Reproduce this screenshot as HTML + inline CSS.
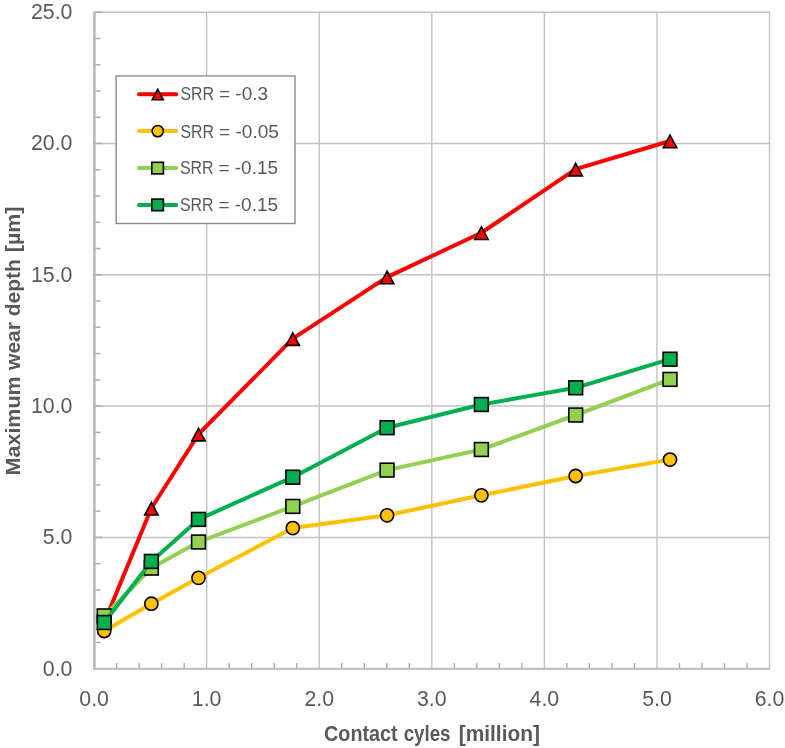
<!DOCTYPE html>
<html><head><meta charset="utf-8"><style>
html,body{margin:0;padding:0;background:#fff;overflow:hidden}
svg{display:block;will-change:transform;font-family:"Liberation Sans",sans-serif}
</style></head><body>
<svg width="785" height="748" viewBox="0 0 785 748">
<rect x="0" y="0" width="785" height="748" fill="#fff"/>
<line x1="93" y1="537.40" x2="770.1" y2="537.40" stroke="#c2c2c2" stroke-width="1.5"/>
<line x1="93" y1="406.10" x2="770.1" y2="406.10" stroke="#c2c2c2" stroke-width="1.5"/>
<line x1="93" y1="274.80" x2="770.1" y2="274.80" stroke="#c2c2c2" stroke-width="1.5"/>
<line x1="93" y1="143.50" x2="770.1" y2="143.50" stroke="#c2c2c2" stroke-width="1.5"/>
<line x1="93" y1="12.20" x2="770.1" y2="12.20" stroke="#c2c2c2" stroke-width="1.5"/>
<line x1="206.67" y1="12.2" x2="206.67" y2="668" stroke="#c2c2c2" stroke-width="1.4"/>
<line x1="319.24" y1="12.2" x2="319.24" y2="668" stroke="#c2c2c2" stroke-width="1.4"/>
<line x1="431.81" y1="12.2" x2="431.81" y2="668" stroke="#c2c2c2" stroke-width="1.4"/>
<line x1="544.38" y1="12.2" x2="544.38" y2="668" stroke="#c2c2c2" stroke-width="1.4"/>
<line x1="656.95" y1="12.2" x2="656.95" y2="668" stroke="#c2c2c2" stroke-width="1.4"/>
<line x1="769.52" y1="12.2" x2="769.52" y2="668" stroke="#c2c2c2" stroke-width="1.4"/>
<line x1="95" y1="668.70" x2="102.5" y2="668.70" stroke="#acacac" stroke-width="1.5"/>
<line x1="95" y1="642.44" x2="100.5" y2="642.44" stroke="#acacac" stroke-width="1.5"/>
<line x1="95" y1="616.18" x2="100.5" y2="616.18" stroke="#acacac" stroke-width="1.5"/>
<line x1="95" y1="589.92" x2="100.5" y2="589.92" stroke="#acacac" stroke-width="1.5"/>
<line x1="95" y1="563.66" x2="100.5" y2="563.66" stroke="#acacac" stroke-width="1.5"/>
<line x1="95" y1="537.40" x2="102.5" y2="537.40" stroke="#acacac" stroke-width="1.5"/>
<line x1="95" y1="511.14" x2="100.5" y2="511.14" stroke="#acacac" stroke-width="1.5"/>
<line x1="95" y1="484.88" x2="100.5" y2="484.88" stroke="#acacac" stroke-width="1.5"/>
<line x1="95" y1="458.62" x2="100.5" y2="458.62" stroke="#acacac" stroke-width="1.5"/>
<line x1="95" y1="432.36" x2="100.5" y2="432.36" stroke="#acacac" stroke-width="1.5"/>
<line x1="95" y1="406.10" x2="102.5" y2="406.10" stroke="#acacac" stroke-width="1.5"/>
<line x1="95" y1="379.84" x2="100.5" y2="379.84" stroke="#acacac" stroke-width="1.5"/>
<line x1="95" y1="353.58" x2="100.5" y2="353.58" stroke="#acacac" stroke-width="1.5"/>
<line x1="95" y1="327.32" x2="100.5" y2="327.32" stroke="#acacac" stroke-width="1.5"/>
<line x1="95" y1="301.06" x2="100.5" y2="301.06" stroke="#acacac" stroke-width="1.5"/>
<line x1="95" y1="274.80" x2="102.5" y2="274.80" stroke="#acacac" stroke-width="1.5"/>
<line x1="95" y1="248.54" x2="100.5" y2="248.54" stroke="#acacac" stroke-width="1.5"/>
<line x1="95" y1="222.28" x2="100.5" y2="222.28" stroke="#acacac" stroke-width="1.5"/>
<line x1="95" y1="196.02" x2="100.5" y2="196.02" stroke="#acacac" stroke-width="1.5"/>
<line x1="95" y1="169.76" x2="100.5" y2="169.76" stroke="#acacac" stroke-width="1.5"/>
<line x1="95" y1="143.50" x2="102.5" y2="143.50" stroke="#acacac" stroke-width="1.5"/>
<line x1="95" y1="117.24" x2="100.5" y2="117.24" stroke="#acacac" stroke-width="1.5"/>
<line x1="95" y1="90.98" x2="100.5" y2="90.98" stroke="#acacac" stroke-width="1.5"/>
<line x1="95" y1="64.72" x2="100.5" y2="64.72" stroke="#acacac" stroke-width="1.5"/>
<line x1="95" y1="38.46" x2="100.5" y2="38.46" stroke="#acacac" stroke-width="1.5"/>
<line x1="95" y1="12.20" x2="102.5" y2="12.20" stroke="#acacac" stroke-width="1.5"/>
<line x1="116.61" y1="663" x2="116.61" y2="668" stroke="#acacac" stroke-width="1.4"/>
<line x1="139.13" y1="663" x2="139.13" y2="668" stroke="#acacac" stroke-width="1.4"/>
<line x1="161.64" y1="663" x2="161.64" y2="668" stroke="#acacac" stroke-width="1.4"/>
<line x1="184.16" y1="663" x2="184.16" y2="668" stroke="#acacac" stroke-width="1.4"/>
<line x1="229.18" y1="663" x2="229.18" y2="668" stroke="#acacac" stroke-width="1.4"/>
<line x1="251.70" y1="663" x2="251.70" y2="668" stroke="#acacac" stroke-width="1.4"/>
<line x1="274.21" y1="663" x2="274.21" y2="668" stroke="#acacac" stroke-width="1.4"/>
<line x1="296.73" y1="663" x2="296.73" y2="668" stroke="#acacac" stroke-width="1.4"/>
<line x1="341.75" y1="663" x2="341.75" y2="668" stroke="#acacac" stroke-width="1.4"/>
<line x1="364.27" y1="663" x2="364.27" y2="668" stroke="#acacac" stroke-width="1.4"/>
<line x1="386.78" y1="663" x2="386.78" y2="668" stroke="#acacac" stroke-width="1.4"/>
<line x1="409.30" y1="663" x2="409.30" y2="668" stroke="#acacac" stroke-width="1.4"/>
<line x1="454.32" y1="663" x2="454.32" y2="668" stroke="#acacac" stroke-width="1.4"/>
<line x1="476.84" y1="663" x2="476.84" y2="668" stroke="#acacac" stroke-width="1.4"/>
<line x1="499.35" y1="663" x2="499.35" y2="668" stroke="#acacac" stroke-width="1.4"/>
<line x1="521.87" y1="663" x2="521.87" y2="668" stroke="#acacac" stroke-width="1.4"/>
<line x1="566.89" y1="663" x2="566.89" y2="668" stroke="#acacac" stroke-width="1.4"/>
<line x1="589.41" y1="663" x2="589.41" y2="668" stroke="#acacac" stroke-width="1.4"/>
<line x1="611.92" y1="663" x2="611.92" y2="668" stroke="#acacac" stroke-width="1.4"/>
<line x1="634.44" y1="663" x2="634.44" y2="668" stroke="#acacac" stroke-width="1.4"/>
<line x1="679.46" y1="663" x2="679.46" y2="668" stroke="#acacac" stroke-width="1.4"/>
<line x1="701.98" y1="663" x2="701.98" y2="668" stroke="#acacac" stroke-width="1.4"/>
<line x1="724.49" y1="663" x2="724.49" y2="668" stroke="#acacac" stroke-width="1.4"/>
<line x1="747.01" y1="663" x2="747.01" y2="668" stroke="#acacac" stroke-width="1.4"/>
<line x1="94.4" y1="11.9" x2="94.4" y2="669.8" stroke="#bababa" stroke-width="2.6"/>
<line x1="93.1" y1="668.85" x2="770.1" y2="668.85" stroke="#bababa" stroke-width="2.0"/>
<polyline points="104.20,622.50 151.35,508.30 198.50,434.20 292.80,338.70 387.10,277.10 481.40,232.75 575.70,169.20 670.00,141.00" fill="none" stroke="#ff0000" stroke-width="4.0" stroke-linejoin="round" stroke-linecap="round"/>
<path d="M104.20,616.60 L110.90,629.20 L97.50,629.20 Z" fill="#ff0000" stroke="#000" stroke-width="1.6" stroke-linejoin="miter"/>
<path d="M151.35,502.40 L158.05,515.00 L144.65,515.00 Z" fill="#ff0000" stroke="#000" stroke-width="1.6" stroke-linejoin="miter"/>
<path d="M198.50,428.30 L205.20,440.90 L191.80,440.90 Z" fill="#ff0000" stroke="#000" stroke-width="1.6" stroke-linejoin="miter"/>
<path d="M292.80,332.80 L299.50,345.40 L286.10,345.40 Z" fill="#ff0000" stroke="#000" stroke-width="1.6" stroke-linejoin="miter"/>
<path d="M387.10,271.20 L393.80,283.80 L380.40,283.80 Z" fill="#ff0000" stroke="#000" stroke-width="1.6" stroke-linejoin="miter"/>
<path d="M481.40,226.85 L488.10,239.45 L474.70,239.45 Z" fill="#ff0000" stroke="#000" stroke-width="1.6" stroke-linejoin="miter"/>
<path d="M575.70,163.30 L582.40,175.90 L569.00,175.90 Z" fill="#ff0000" stroke="#000" stroke-width="1.6" stroke-linejoin="miter"/>
<path d="M670.00,135.10 L676.70,147.70 L663.30,147.70 Z" fill="#ff0000" stroke="#000" stroke-width="1.6" stroke-linejoin="miter"/>
<polyline points="104.20,631.00 151.35,603.70 198.50,577.85 292.80,528.10 387.10,515.30 481.40,495.30 575.70,476.00 670.00,459.60" fill="none" stroke="#ffc000" stroke-width="4.0" stroke-linejoin="round" stroke-linecap="round"/>
<circle cx="104.20" cy="631.00" r="6.6" fill="#ffc000" stroke="#000" stroke-width="1.6"/>
<circle cx="151.35" cy="603.70" r="6.6" fill="#ffc000" stroke="#000" stroke-width="1.6"/>
<circle cx="198.50" cy="577.85" r="6.6" fill="#ffc000" stroke="#000" stroke-width="1.6"/>
<circle cx="292.80" cy="528.10" r="6.6" fill="#ffc000" stroke="#000" stroke-width="1.6"/>
<circle cx="387.10" cy="515.30" r="6.6" fill="#ffc000" stroke="#000" stroke-width="1.6"/>
<circle cx="481.40" cy="495.30" r="6.6" fill="#ffc000" stroke="#000" stroke-width="1.6"/>
<circle cx="575.70" cy="476.00" r="6.6" fill="#ffc000" stroke="#000" stroke-width="1.6"/>
<circle cx="670.00" cy="459.60" r="6.6" fill="#ffc000" stroke="#000" stroke-width="1.6"/>
<polyline points="104.20,615.90 151.35,568.10 198.50,542.00 292.80,506.40 387.10,470.10 481.40,449.50 575.70,415.00 670.00,379.40" fill="none" stroke="#92d050" stroke-width="4.0" stroke-linejoin="round" stroke-linecap="round"/>
<rect x="97.30" y="609.00" width="13.8" height="13.8" fill="#92d050" stroke="#000" stroke-width="1.6"/>
<rect x="144.45" y="561.20" width="13.8" height="13.8" fill="#92d050" stroke="#000" stroke-width="1.6"/>
<rect x="191.60" y="535.10" width="13.8" height="13.8" fill="#92d050" stroke="#000" stroke-width="1.6"/>
<rect x="285.90" y="499.50" width="13.8" height="13.8" fill="#92d050" stroke="#000" stroke-width="1.6"/>
<rect x="380.20" y="463.20" width="13.8" height="13.8" fill="#92d050" stroke="#000" stroke-width="1.6"/>
<rect x="474.50" y="442.60" width="13.8" height="13.8" fill="#92d050" stroke="#000" stroke-width="1.6"/>
<rect x="568.80" y="408.10" width="13.8" height="13.8" fill="#92d050" stroke="#000" stroke-width="1.6"/>
<rect x="663.10" y="372.50" width="13.8" height="13.8" fill="#92d050" stroke="#000" stroke-width="1.6"/>
<polyline points="104.20,622.50 151.35,561.40 198.50,519.40 292.80,477.20 387.10,427.70 481.40,404.50 575.70,387.80 670.00,359.20" fill="none" stroke="#00b050" stroke-width="4.0" stroke-linejoin="round" stroke-linecap="round"/>
<rect x="97.30" y="615.60" width="13.8" height="13.8" fill="#00b050" stroke="#000" stroke-width="1.6"/>
<rect x="144.45" y="554.50" width="13.8" height="13.8" fill="#00b050" stroke="#000" stroke-width="1.6"/>
<rect x="191.60" y="512.50" width="13.8" height="13.8" fill="#00b050" stroke="#000" stroke-width="1.6"/>
<rect x="285.90" y="470.30" width="13.8" height="13.8" fill="#00b050" stroke="#000" stroke-width="1.6"/>
<rect x="380.20" y="420.80" width="13.8" height="13.8" fill="#00b050" stroke="#000" stroke-width="1.6"/>
<rect x="474.50" y="397.60" width="13.8" height="13.8" fill="#00b050" stroke="#000" stroke-width="1.6"/>
<rect x="568.80" y="380.90" width="13.8" height="13.8" fill="#00b050" stroke="#000" stroke-width="1.6"/>
<rect x="663.10" y="352.30" width="13.8" height="13.8" fill="#00b050" stroke="#000" stroke-width="1.6"/>
<rect x="116.15" y="75.95" width="178.85" height="147.55" fill="#fff" stroke="#8a8a8a" stroke-width="1.4"/>
<line x1="139" y1="94.2" x2="176.2" y2="94.2" stroke="#ff0000" stroke-width="4.0" stroke-linecap="round"/>
<path d="M157.75,89.30 L163.31,99.76 L152.19,99.76 Z" fill="#ff0000" stroke="#000" stroke-width="1.6" stroke-linejoin="miter"/>
<line x1="139" y1="131.1" x2="176.2" y2="131.1" stroke="#ffc000" stroke-width="4.0" stroke-linecap="round"/>
<circle cx="157.75" cy="131.10" r="5.6" fill="#ffc000" stroke="#000" stroke-width="1.6"/>
<line x1="139" y1="168.1" x2="176.2" y2="168.1" stroke="#92d050" stroke-width="4.0" stroke-linecap="round"/>
<rect x="151.80" y="162.30" width="11.6" height="11.6" fill="#92d050" stroke="#000" stroke-width="1.6"/>
<line x1="139" y1="204.9" x2="176.2" y2="204.9" stroke="#00b050" stroke-width="4.0" stroke-linecap="round"/>
<rect x="151.80" y="199.10" width="11.6" height="11.6" fill="#00b050" stroke="#000" stroke-width="1.6"/>
<text x="72.4" y="675.60" font-size="21.3" fill="#595959" text-anchor="end">0.0</text>
<text x="72.4" y="544.30" font-size="21.3" fill="#595959" text-anchor="end">5.0</text>
<text x="72.4" y="413.00" font-size="21.3" fill="#595959" text-anchor="end">10.0</text>
<text x="72.4" y="281.70" font-size="21.3" fill="#595959" text-anchor="end">15.0</text>
<text x="72.4" y="150.40" font-size="21.3" fill="#595959" text-anchor="end">20.0</text>
<text x="72.4" y="19.10" font-size="21.3" fill="#595959" text-anchor="end">25.0</text>
<text x="94.10" y="705.8" font-size="21.3" fill="#595959" text-anchor="middle">0.0</text>
<text x="206.67" y="705.8" font-size="21.3" fill="#595959" text-anchor="middle">1.0</text>
<text x="319.24" y="705.8" font-size="21.3" fill="#595959" text-anchor="middle">2.0</text>
<text x="431.81" y="705.8" font-size="21.3" fill="#595959" text-anchor="middle">3.0</text>
<text x="544.38" y="705.8" font-size="21.3" fill="#595959" text-anchor="middle">4.0</text>
<text x="656.95" y="705.8" font-size="21.3" fill="#595959" text-anchor="middle">5.0</text>
<text x="769.52" y="705.8" font-size="21.3" fill="#595959" text-anchor="middle">6.0</text>
<text x="324.07" y="740.60" font-size="21.8" font-weight="bold" fill="#595959" textLength="73.55" lengthAdjust="spacingAndGlyphs">Contact</text>
<text x="403.68" y="740.60" font-size="21.8" font-weight="bold" fill="#595959" textLength="46.76" lengthAdjust="spacingAndGlyphs">cyles</text>
<text x="458.69" y="740.60" font-size="21.8" font-weight="bold" fill="#595959" textLength="81.24" lengthAdjust="spacingAndGlyphs">[million]</text>
<text transform="translate(19.60,475.43) rotate(-90)" x="0" y="0" font-size="20.5" font-weight="bold" fill="#595959" textLength="99.16" lengthAdjust="spacingAndGlyphs">Maximum</text>
<text transform="translate(19.60,370.00) rotate(-90)" x="0" y="0" font-size="20.5" font-weight="bold" fill="#595959" textLength="48.00" lengthAdjust="spacingAndGlyphs">wear</text>
<text transform="translate(19.60,316.26) rotate(-90)" x="0" y="0" font-size="20.5" font-weight="bold" fill="#595959" textLength="56.93" lengthAdjust="spacingAndGlyphs">depth</text>
<text transform="translate(19.60,252.24) rotate(-90)" x="0" y="0" font-size="20.5" font-weight="bold" fill="#595959" textLength="45.71" lengthAdjust="spacingAndGlyphs">[µm]</text>
<text x="180.41" y="100.30" font-size="18.3" fill="#595959" textLength="33.64" lengthAdjust="spacingAndGlyphs">SRR</text>
<text x="218.98" y="100.30" font-size="18.3" fill="#595959" textLength="49.03" lengthAdjust="spacingAndGlyphs">= -0.3</text>
<text x="180.41" y="137.50" font-size="18.3" fill="#595959" textLength="33.64" lengthAdjust="spacingAndGlyphs">SRR</text>
<text x="218.98" y="137.50" font-size="18.3" fill="#595959" textLength="60.05" lengthAdjust="spacingAndGlyphs">= -0.05</text>
<text x="179.94" y="174.20" font-size="18.3" fill="#595959" textLength="33.61" lengthAdjust="spacingAndGlyphs">SRR</text>
<text x="218.48" y="174.20" font-size="18.3" fill="#595959" textLength="59.53" lengthAdjust="spacingAndGlyphs">= -0.15</text>
<text x="179.94" y="210.80" font-size="18.3" fill="#595959" textLength="33.61" lengthAdjust="spacingAndGlyphs">SRR</text>
<text x="218.48" y="210.80" font-size="18.3" fill="#595959" textLength="59.53" lengthAdjust="spacingAndGlyphs">= -0.15</text>
</svg>
</body></html>
